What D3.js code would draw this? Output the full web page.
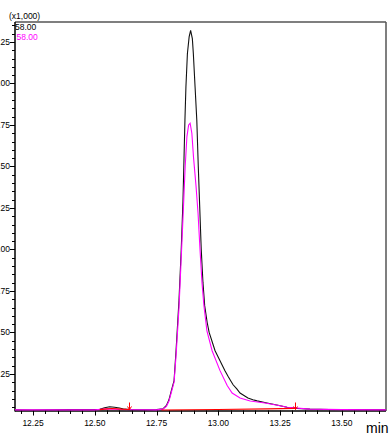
<!DOCTYPE html>
<html><head><meta charset="utf-8">
<script src="https://cdn.jsdelivr.net/npm/d3@7"></script>
<style>html,body{margin:0;padding:0;background:#fff;overflow:hidden}svg{display:block}</style>
</head><body><svg id="c" width="390" height="436"></svg>
<script>
// ---- data (intensity in x1,000 counts, time in min) ----
const blackTime = [12.177,12.25,12.40,12.50,12.52,12.54,12.56,12.58,12.60,12.62,12.64,12.70,12.75,12.776,12.790,12.800,12.810,12.821,12.829,12.841,12.850,12.857,12.865,12.869,12.875,12.882,12.888,12.895,12.899,12.906,12.913,12.919,12.925,12.931,12.938,12.945,12.955,12.963,12.987,13.027,13.040,13.052,13.060,13.075,13.088,13.120,13.140,13.157,13.197,13.237,13.278,13.32,13.371,13.45,13.55,13.68];
const blackInt  = [0.034,0.033,0.035,0.035,0.037,0.047,0.053,0.050,0.045,0.038,0.035,0.034,0.035,0.040,0.060,0.093,0.150,0.210,0.390,0.695,1.000,1.290,1.780,1.980,2.180,2.280,2.320,2.270,2.180,1.980,1.780,1.500,1.250,1.000,0.800,0.660,0.560,0.500,0.390,0.270,0.235,0.205,0.185,0.160,0.135,0.105,0.095,0.088,0.075,0.063,0.050,0.043,0.038,0.036,0.035,0.034];
const magentaTime = [12.177,12.40,12.50,12.55,12.60,12.75,12.776,12.790,12.800,12.810,12.821,12.829,12.841,12.850,12.858,12.866,12.873,12.880,12.886,12.893,12.900,12.910,12.918,12.926,12.934,12.942,12.954,12.975,13.007,13.036,13.056,13.088,13.129,13.189,13.24,13.28,13.37,13.50,13.68];
const magentaInt  = [0.034,0.034,0.034,0.040,0.036,0.034,0.038,0.055,0.085,0.140,0.200,0.360,0.650,0.950,1.220,1.500,1.680,1.750,1.760,1.700,1.550,1.380,1.220,1.000,0.800,0.660,0.510,0.390,0.270,0.180,0.135,0.105,0.087,0.075,0.062,0.050,0.038,0.035,0.034];
const redTimeA = [12.52,12.55,12.57,12.61,12.64];
const redIntA  = [0.035,0.040,0.042,0.038,0.036];
const redTimeB = [12.77,13.00,13.20,13.31];
const redIntB  = [0.033,0.036,0.040,0.043];
const redMarkers = [12.64,13.31];
const xTicks = [12.25,12.50,12.75,13.00,13.25,13.50];
const xTickLabels = ["12.25","12.50","12.75","13.00","13.25","13.50"];
const yTicks = [0.25,0.50,0.75,1.00,1.25,1.50,1.75,2.00,2.25];
const yTickLabels = ["0.25","0.50","0.75","1.00","1.25","1.50","1.75","2.00","2.25"];
const legendLabels = ["58.00","58.00"];
const legendColors = ["#000000","#ff00ff"];

// ---- layout ----
const L=15, R=386, T=22, B=410.5;
const svg = d3.select("#c");
const x = d3.scaleLinear().domain([12.177,13.679]).range([L,R]);
const y = d3.scaleLinear().domain([0.03,2.37]).range([B,T]);
const font = "Liberation Sans, Arial, sans-serif";

svg.append("clipPath").attr("id","clip").append("rect")
  .attr("x",L).attr("y",T).attr("width",R-L).attr("height",B-T+1);

// frame top & right
svg.append("line").attr("x1",L).attr("x2",R).attr("y1",T).attr("y2",T).attr("stroke","#555").attr("stroke-width",1.5);
svg.append("line").attr("x1",R).attr("x2",R).attr("y1",T).attr("y2",B+0.5).attr("stroke","#555").attr("stroke-width",1.5);

// y axis
const yMinor = d3.range(0.05,2.37,0.05).map(v=>+v.toFixed(2));
svg.append("g").selectAll("line").data(yMinor).join("line")
  .attr("x1",d=> (Math.abs(d/0.25-Math.round(d/0.25))<1e-6)?10:12).attr("x2",L)
  .attr("y1",d=>Math.round(y(d))+0.5).attr("y2",d=>Math.round(y(d))+0.5)
  .attr("stroke","#000").attr("stroke-width",1);
svg.append("g").selectAll("text").data(yTicks).join("text")
  .attr("x",10).attr("y",d=>y(d)+3).attr("text-anchor","end")
  .attr("font-family",font).attr("font-size",8.5).attr("fill","#000")
  .text((d,i)=>yTickLabels[i]);
svg.append("line").attr("x1",L).attr("x2",L).attr("y1",T).attr("y2",B+1).attr("stroke","#000").attr("stroke-width",1.5);

// x axis
const xMinor = d3.range(12.20,13.68,0.05).map(v=>+v.toFixed(2));
svg.append("g").selectAll("line").data(xMinor).join("line")
  .attr("x1",d=>Math.round(x(d))+0.5).attr("x2",d=>Math.round(x(d))+0.5)
  .attr("y1",B).attr("y2",d=> xTicks.some(t=>Math.abs(t-d)<1e-6)?B+5:B+3.5)
  .attr("stroke","#000").attr("stroke-width",1);
svg.append("g").selectAll("text").data(xTicks).join("text")
  .attr("x",d=>x(d)).attr("y",426).attr("text-anchor","middle")
  .attr("font-family",font).attr("font-size",8.5).attr("fill","#000")
  .text((d,i)=>xTickLabels[i]);
svg.append("line").attr("x1",L).attr("x2",R).attr("y1",B+0.5).attr("y2",B+0.5).attr("stroke","#000").attr("stroke-width",1.5);
svg.append("text").attr("x",366).attr("y",433).attr("font-family",font).attr("font-size",14).attr("fill","#000").text("min");

// traces
const line = d3.line().x(d=>x(d[0])).y(d=>y(d[1])).curve(d3.curveLinear);
const g = svg.append("g").attr("clip-path","url(#clip)");
g.append("path").attr("d",line(blackTime.map((t,i)=>[t,blackInt[i]]))).attr("fill","none").attr("stroke","#111").attr("stroke-width",1.1);
g.append("path").attr("d",line(magentaTime.map((t,i)=>[t,magentaInt[i]]))).attr("fill","none").attr("stroke","#ff00ff").attr("stroke-width",1.1);
g.append("path").attr("d",line(redTimeA.map((t,i)=>[t,redIntA[i]]))).attr("fill","none").attr("stroke","#ff0000").attr("stroke-width",1.1);
g.append("path").attr("d",line(redTimeB.map((t,i)=>[t,redIntB[i]]))).attr("fill","none").attr("stroke","#ff0000").attr("stroke-width",1.1);
redMarkers.forEach(t=>{
  const px = Math.round(x(t))+0.5;
  svg.append("path").attr("d",`M${px},${B-8}L${px},${B-1}M${px-2},${B-4}L${px},${B-1}L${px+2},${B-4}`)
    .attr("fill","none").attr("stroke","#ff0000").attr("stroke-width",1);
});

// header labels
svg.append("text").attr("x",9).attr("y",19).attr("font-family",font).attr("font-size",8.5).attr("fill","#000").text("(x1,000)");
legendLabels.forEach((s,i)=>{
  svg.append("text").attr("x",15+i*1.5).attr("y",30+i*10).attr("font-family",font).attr("font-size",8.5).attr("fill",legendColors[i]).text(s);
});
</script></body></html>
